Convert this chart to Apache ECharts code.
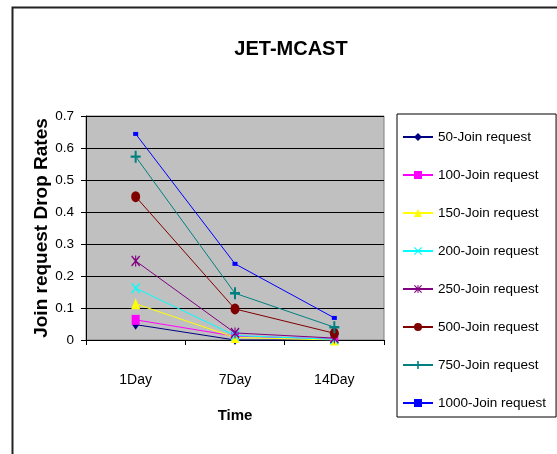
<!DOCTYPE html>
<html><head><meta charset="utf-8">
<script src="https://cdn.jsdelivr.net/npm/echarts@6/dist/echarts.min.js"></script>
<style>html,body{margin:0;padding:0;background:#fff}#c{width:557px;height:454px}</style>
</head><body><div id="c"></div>
<script>
var categories = ['1Day', '7Day', '14Day'];
var seriesNames = ['50-Join request', '100-Join request', '150-Join request', '200-Join request', '250-Join request', '500-Join request', '750-Join request', '1000-Join request'];
var s50 = [0.048, 0.000, 0.000];
var s100 = [0.063, 0.012, 0.003];
var s150 = [0.113, 0.008, 0.000];
var s200 = [0.162, 0.014, 0.002];
var s250 = [0.247, 0.022, 0.006];
var s500 = [0.448, 0.097, 0.021];
var s750 = [0.573, 0.146, 0.040];
var s1000 = [0.644, 0.238, 0.069];
var yTicks = [0, 0.1, 0.2, 0.3, 0.4, 0.5, 0.6, 0.7];

var FONT = '"Liberation Sans", Arial, sans-serif';
var colors = ['#000080', '#FF00FF', '#FFFF00', '#00FFFF', '#800080', '#800000', '#008080', '#0000FF'];
var plusPath = 'path://M4,0H6V4H10V6H6V10H4V6H0V4H4Z';
var xPath = 'path://M1,0L5,4L9,0L10,1L6,5L10,9L9,10L5,6L1,10L0,9L4,5L0,1Z';
var starPath = 'path://M1,0L5,4L9,0L10,1L6,5L10,9L9,10L5,6L1,10L0,9L4,5L0,1ZM4.4,0H5.6V10H4.4Z';
var symbols = ['diamond', 'rect', 'triangle', xPath, starPath, 'circle', plusPath, 'rect'];
var sizes = [[7, 10], [8, 10], [9, 11], [9, 11], [9, 11], [9, 11], [10, 12], [5, 4]];
var datas = [s50, s100, s150, s200, s250, s500, s750, s1000];

var series = datas.map(function (d, i) {
  return {
    name: seriesNames[i], type: 'line', data: d,
    symbol: symbols[i], symbolSize: sizes[i], showAllSymbol: true,
    lineStyle: { color: colors[i], width: 1 },
    itemStyle: { color: colors[i] },
    emphasis: { disabled: true },
    z: 2 + i
  };
});

var chart = echarts.init(document.getElementById('c'), null, { renderer: 'canvas' });
chart.setOption({
  animation: false,
  backgroundColor: '#fff',
  color: colors,
  title: {
    text: 'JET-MCAST', left: 286, top: 34, textAlign: 'center',
    textStyle: { fontFamily: FONT, fontWeight: 'bold', fontSize: 20, color: '#000' }
  },
  grid: { left: 86, right: 173, top: 116, bottom: 114, show: true, backgroundColor: '#C0C0C0', borderColor: '#808080', borderWidth: 1 },
  legend: {
    orient: 'vertical', left: 397, top: 114, itemWidth: 30, itemHeight: 10, itemGap: 24,
    padding: [16, 10, 7, 5], backgroundColor: '#fff', borderColor: '#000', borderWidth: 1, borderRadius: 0,
    textStyle: { fontFamily: FONT, fontSize: 13.5, color: '#000' },
    data: seriesNames
  },
  xAxis: {
    type: 'category', data: categories, boundaryGap: true,
    axisLine: { lineStyle: { color: '#000', width: 1 } },
    axisTick: { show: true, length: 5, lineStyle: { color: '#000' } },
    axisLabel: { fontFamily: FONT, fontSize: 14, color: '#000', margin: 33 },
    name: 'Time', nameLocation: 'middle', nameGap: 68,
    nameTextStyle: { fontFamily: FONT, fontWeight: 'bold', fontSize: 15, color: '#000' }
  },
  yAxis: {
    type: 'value', min: yTicks[0], max: yTicks[yTicks.length - 1], interval: 0.1,
    axisLine: { show: true, lineStyle: { color: '#000', width: 1 } },
    axisTick: { show: true, length: 5, lineStyle: { color: '#000' } },
    axisLabel: { fontFamily: FONT, fontSize: 13.5, color: '#000', margin: 12,
      formatter: function (v) { return String(Math.round(v * 10) / 10); } },
    splitLine: { show: true, lineStyle: { color: '#000', width: 1 } },
    name: 'Join request Drop Rates', nameLocation: 'middle', nameGap: 35, nameRotate: 90,
    nameMoveOverlap: false,
    nameTextStyle: { fontFamily: FONT, fontWeight: 'bold', fontSize: 19, color: '#000' }
  },
  graphic: [{
    type: 'rect', shape: { x: 12.5, y: 7.5, width: 700, height: 600 }, silent: true, z: -10,
    style: { fill: 'none', stroke: '#222', lineWidth: 2 }
  }],
  series: series
});
</script></body></html>
